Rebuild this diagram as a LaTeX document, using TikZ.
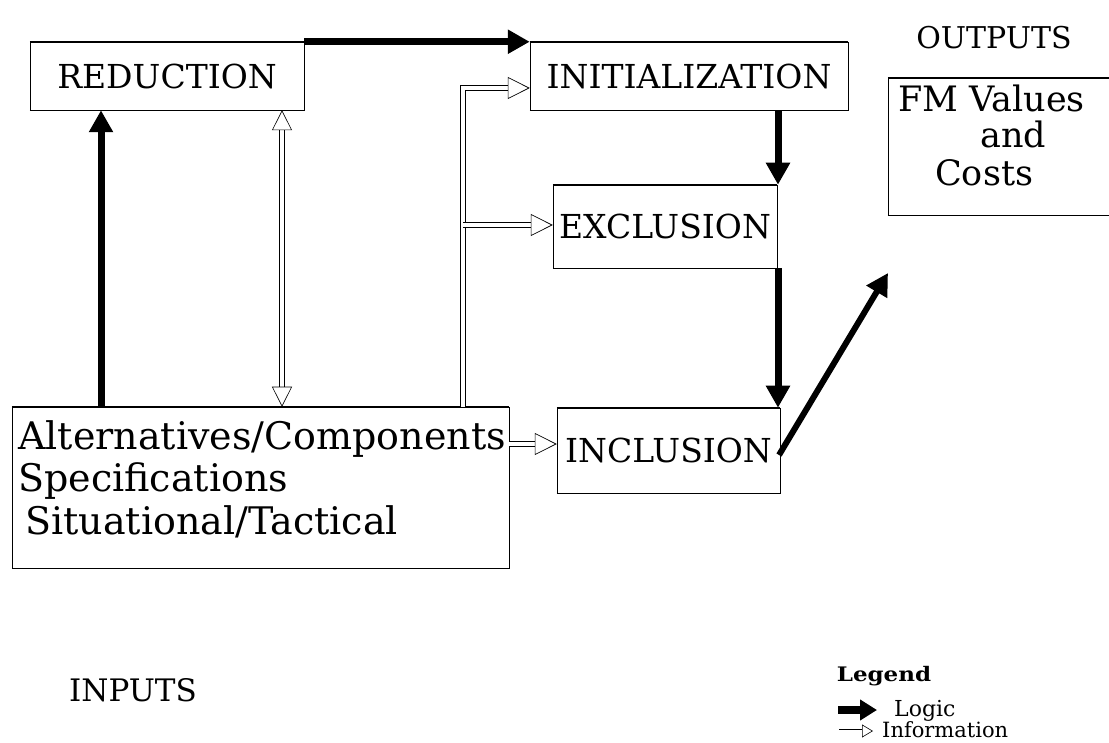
\documentclass[tikz,border=0pt]{standalone}
\usepackage{fontspec}
\setmainfont{DejaVu Serif}
\newfontfamily\legendfont[FakeStretch=1.15]{DejaVu Serif}
\usetikzlibrary{arrows.meta,calc}
\begin{document}
\begin{tikzpicture}[x=1pt,y=-1pt,
  box/.style={draw, line width=0.5pt, inner sep=0pt, font=\fontsize{33}{36}\selectfont},
  edge/.style={line width=1.4pt},
  txt/.style={inner sep=0pt, font=\fontsize{#1}{#1}\selectfont},
  logic/.style={line width=7pt, -{Triangle[length=22pt,width=23pt]}},
  info/.style={double=white, double distance=4pt, line width=0.7pt,
    -{Triangle[open,length=22pt,width=22pt,line width=0.7pt]}},
  infoboth/.style={double=white, double distance=4pt, line width=0.6pt,
    {Triangle[open,length=20pt,width=20pt,line width=0.6pt]}-{Triangle[open,length=20pt,width=20pt,line width=0.6pt]}},
]
\useasboundingbox (0,0) rectangle (1109,743);

% process boxes
\node[box, minimum width=274pt, minimum height=68pt] (red)  at (167,76) {REDUCTION};
\node[box, minimum width=318pt, minimum height=68pt] (init) at (689,76) {INITIALIZATION};
\node[box, minimum width=224pt, minimum height=83pt] (excl) at (665,226.5) {EXCLUSION};
\node[box, minimum width=223pt, minimum height=85pt] (incl) at (668.5,450.5) {INCLUSION};
\node[box, minimum width=497pt, minimum height=161pt] (inp)  at (260.5,487.5) {};
\node[box, minimum width=242pt, minimum height=137pt] (fm)   at (1009,146.5) {};

% heavier top and bottom rules of the boxes
\foreach \b in {red,init,excl,incl,inp,fm}
  \draw[edge] (\b.north west) -- (\b.north east) (\b.south west) -- (\b.south east);

% input box lines
\node[txt=38, anchor=base west] (inp1) at (18,449) {Alternatives/Components};
\node[txt=38, anchor=base west] (inp2) at (18,491) {Specifications};
\node[txt=38, anchor=base west] (inp3) at (25,534) {Situational/Tactical};

% output box lines
\node[txt=35, anchor=base west] (fm1) at (898,112) {FM Values};
\node[txt=35, anchor=base west] (fm2) at (980,148) {and};
\node[txt=35, anchor=base west] (fm3) at (935,186) {Costs};

% headings
\node[txt=30] (outputs) at (994,38) {OUTPUTS};
\node[txt=31] (inputs) at (133,690) {INPUTS};

% legend
\node[inner sep=0pt, font=\fontsize{20}{20}\legendfont\bfseries] (legend) at (884,676) {Legend};
\node[inner sep=0pt, anchor=base west, font=\fontsize{22}{22}\selectfont] (lglogic) at (894,716) {Logic};
\node[inner sep=0pt, anchor=base west, font=\fontsize{21}{21}\selectfont] (lginfo) at (882,737) {Information};
\coordinate (lgA) at (838,710);
\coordinate (lgB) at (877,710);
\coordinate (lgC) at (839,731);
\coordinate (lgD) at (873,731);
\draw[line width=8pt, -{Triangle[length=17pt,width=20pt]}] (lgA) -- (lgB);
\draw[double=white, double distance=3pt, line width=0.6pt,
  -{Triangle[open,length=11pt,width=13pt,line width=0.6pt]}] (lgC) -- (lgD);

% helper positions for connectors
\coordinate (busTop) at (463,88);
\coordinate (busMid) at (463,225);
\coordinate (upx) at (101,0);
\coordinate (dbx) at (282,0);
\coordinate (incRow) at (0,444);
\coordinate (rightx) at (778,0);
\coordinate (incOut) at (779,455);
\coordinate (fmTip) at (888,273);

% logic flow
\draw[logic] (red.north east) -- (red.north east -| init.west);
\draw[logic] (init.south -| rightx) -- (excl.north -| rightx);
\draw[logic] (excl.south -| rightx) -- (incl.north -| rightx);
\draw[logic] (inp.north -| upx) -- (red.south -| upx);
\draw[logic, line width=6pt] (incOut) -- (fmTip);

% information flow
\draw[info] (inp.north -| busTop) -- (busTop) -- (init.west |- busTop);
\draw[info] (busMid) -- (excl.west |- busMid);
\draw[info] (inp.east |- incRow) -- (incl.west |- incRow);
\draw[infoboth] (red.south -| dbx) -- (inp.north -| dbx);
\end{tikzpicture}
\end{document}
